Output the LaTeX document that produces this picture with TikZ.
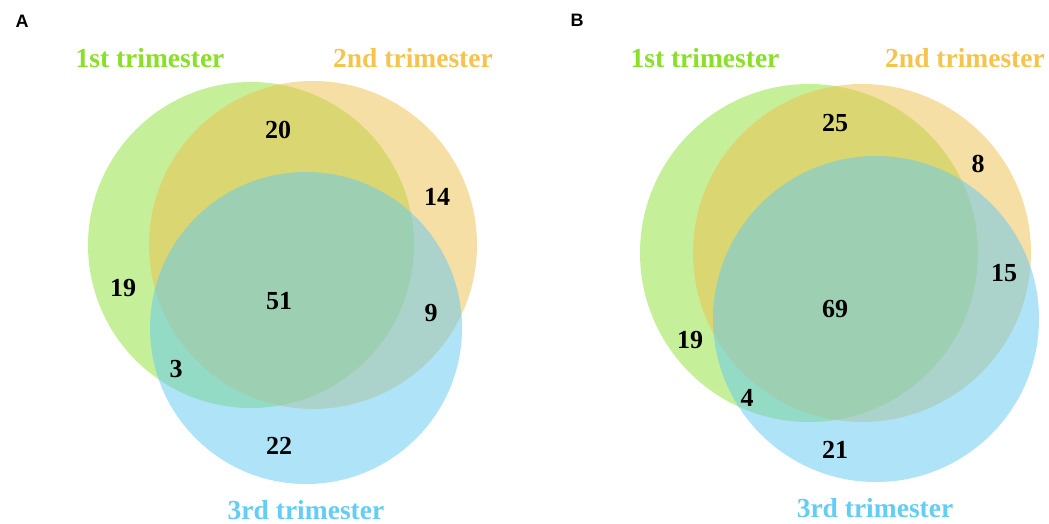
\documentclass[tikz,border=0pt]{standalone}
\usepackage{fontspec}
\setmainfont{Liberation Serif}
\newfontfamily\panelfont{Liberation Sans}
\definecolor{setA}{RGB}{143,225,55}
\definecolor{setB}{RGB}{239,193,77}
\definecolor{setC}{RGB}{97,201,241}
\definecolor{labA}{RGB}{138,224,40}
\definecolor{labB}{RGB}{244,196,78}
\definecolor{labC}{RGB}{100,205,245}
\tikzset{
  venn/.style={fill opacity=0.5},
  count/.style={font=\bfseries\fontsize{26}{28}\selectfont, text=black, inner sep=0pt},
  setlabel/.style={font=\bfseries\fontsize{27.5}{30}\selectfont, inner sep=0pt},
  panel/.style={font=\panelfont\bfseries\fontsize{18}{20}\selectfont, inner sep=0pt}
}
\begin{document}
\begin{tikzpicture}[x=1pt,y=-1pt]
\useasboundingbox (0,0) rectangle (1049,524);
\fill[white] (0,0) rectangle (1049,524);

% ---- Panel A ----
\node[panel] (pA) at (22,21) {A};
\fill[venn,setA] (251,245) circle (163);
\fill[venn,setB] (313,245) circle (164);
\fill[venn,setC] (306,328) circle (156);
\node[setlabel,text=labA] (a1) at (150,58) {1st trimester};
\node[setlabel,text=labB] (a2) at (413,58) {2nd trimester};
\node[setlabel,text=labC] (a3) at (306,510) {3rd trimester};
\node[count] (a12) at (278,130) {20};
\node[count] (a2only) at (437,197) {14};
\node[count] (a1only) at (123,288) {19};
\node[count] (a123) at (279,301) {51};
\node[count] (a23) at (431,313) {9};
\node[count] (a13) at (176,369) {3};
\node[count] (a3only) at (279,446) {22};

% ---- Panel B ----
\node[panel] (pB) at (577,20) {B};
\fill[venn,setA] (809,253) circle (169);
\fill[venn,setB] (862,253) circle (169);
\fill[venn,setC] (876,319) circle (163);
\node[setlabel,text=labA] (b1) at (705,58) {1st trimester};
\node[setlabel,text=labB] (b2) at (965,58) {2nd trimester};
\node[setlabel,text=labC] (b3) at (875,508) {3rd trimester};
\node[count] (b12) at (835,123) {25};
\node[count] (b2only) at (978,164) {8};
\node[count] (b23) at (1004,273) {15};
\node[count] (b123) at (835,309) {69};
\node[count] (b1only) at (690,340) {19};
\node[count] (b13) at (747,398) {4};
\node[count] (b3only) at (835,450) {21};
\end{tikzpicture}
\end{document}
